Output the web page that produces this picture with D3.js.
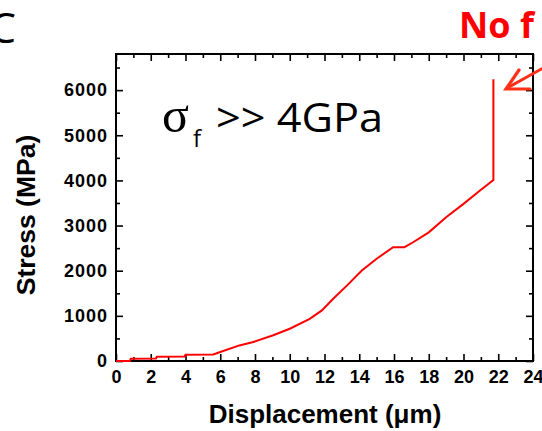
<!DOCTYPE html>
<html>
<head>
<meta charset="utf-8">
<script src="https://cdn.jsdelivr.net/npm/d3@7"></script>
<style>
  html, body { margin: 0; padding: 0; background: #fff; }
  svg { display: block; }
</style>
</head>
<body>
<script>
// Stress–displacement record of the pillar (MPa vs µm)
const displacement = [0, 0.8, 0.85, 2.3, 2.35, 3.95, 4.0, 5.6, 6.0, 7.1, 7.9, 9.05, 10.0, 11.15, 11.85, 12.5, 13.3, 14.15, 15.0, 15.95, 16.6, 17.1, 18.0, 19.0, 20.0, 20.95, 21.72, 21.72];
const stress =       [0, 0, 50, 55, 95, 100, 140, 145, 200, 345, 420, 570, 715, 935, 1120, 1380, 1675, 2005, 2265, 2520, 2520, 2630, 2850, 3185, 3480, 3775, 4010, 6240];

const xTicks = [0, 2, 4, 6, 8, 10, 12, 14, 16, 18, 20, 22, 24];
const xMinor = [1, 3, 5, 7, 9, 11, 13, 15, 17, 19, 21, 23];
const yTicks = [0, 1000, 2000, 3000, 4000, 5000, 6000];
const yMinor = [500, 1500, 2500, 3500, 4500, 5500, 6500];

const W = 542, H = 431;
const m = { left: 116, right: 9, top: 54, bottom: 70 };

const svg = d3.select("body").append("svg").attr("width", W).attr("height", H);

const x = d3.scaleLinear().domain([0, 24]).range([m.left, W - m.right]);
const y = d3.scaleLinear().domain([0, 6800]).range([H - m.bottom, m.top]);

const tickFont = "'Liberation Sans', Arial, sans-serif";

function styleAxis(g) {
  g.selectAll("path.domain").remove();
  g.selectAll("line").attr("stroke", "#000").attr("stroke-width", 1.6);
  g.selectAll("text").attr("fill", "#000").attr("font-family", tickFont)
    .attr("font-weight", "bold").attr("font-size", 18);
}

// bottom axis (inward ticks, labelled)
svg.append("g").attr("transform", `translate(0,${y(0)})`)
  .call(d3.axisBottom(x).tickValues(xTicks).tickSize(-7).tickPadding(9).tickFormat(d3.format("d")))
  .call(styleAxis);
svg.append("g").attr("transform", `translate(0,${y(0)})`)
  .call(d3.axisBottom(x).tickValues(xMinor).tickSize(-4).tickFormat(""))
  .call(styleAxis);
// top axis
svg.append("g").attr("transform", `translate(0,${m.top})`)
  .call(d3.axisTop(x).tickValues(xTicks).tickSize(-7).tickFormat(""))
  .call(styleAxis);
svg.append("g").attr("transform", `translate(0,${m.top})`)
  .call(d3.axisTop(x).tickValues(xMinor).tickSize(-4).tickFormat(""))
  .call(styleAxis);
// left axis (labelled)
const yl = svg.append("g").attr("transform", `translate(${x(0)},0)`)
  .call(d3.axisLeft(y).tickValues(yTicks).tickSize(-7).tickPadding(8).tickFormat(d3.format("d")))
  .call(styleAxis);
yl.selectAll("text").attr("font-size", 18).attr("letter-spacing", 1);
svg.append("g").attr("transform", `translate(${x(0)},0)`)
  .call(d3.axisLeft(y).tickValues(yMinor).tickSize(-4).tickFormat(""))
  .call(styleAxis);
// right axis
svg.append("g").attr("transform", `translate(${x(24)},0)`)
  .call(d3.axisRight(y).tickValues(yTicks).tickSize(-7).tickFormat(""))
  .call(styleAxis);
svg.append("g").attr("transform", `translate(${x(24)},0)`)
  .call(d3.axisRight(y).tickValues(yMinor).tickSize(-4).tickFormat(""))
  .call(styleAxis);

// frame
svg.append("rect")
  .attr("x", x(0)).attr("y", y(6800))
  .attr("width", x(24) - x(0)).attr("height", y(0) - y(6800))
  .attr("fill", "none").attr("stroke", "#000").attr("stroke-width", 2);

// curve
const pts = displacement.map((d, i) => [d, stress[i]]);
svg.append("path")
  .datum(pts)
  .attr("fill", "none")
  .attr("stroke", "#ff0000")
  .attr("stroke-width", 2)
  .attr("d", d3.line().x(d => x(d[0])).y(d => y(d[1])));

// axis titles
svg.append("text")
  .attr("x", 325).attr("y", 423)
  .attr("text-anchor", "middle")
  .attr("font-family", tickFont).attr("font-weight", "bold").attr("font-size", 26)
  .text("Displacement (\u03BCm)");

svg.append("text")
  .attr("transform", "translate(35,215) rotate(-90)")
  .attr("text-anchor", "middle")
  .attr("font-family", tickFont).attr("font-weight", "bold").attr("font-size", 26.5)
  .text("Stress (MPa)");

// in-plot annotation: σf >> 4GPa
const ann = svg.append("g");
ann.append("text")
  .attr("x", 162).attr("y", 132)
  .attr("font-family", "'Liberation Serif', 'Times New Roman', serif").attr("font-size", 50)
  .text("\u03C3");
ann.append("text")
  .attr("x", 193).attr("y", 147)
  .attr("font-family", "'Open Sans', sans-serif").attr("font-size", 24)
  .text("f");
ann.append("text")
  .attr("x", 216).attr("y", 132)
  .attr("font-family", "'Open Sans', sans-serif").attr("font-size", 40)
  .attr("textLength", 167).attr("lengthAdjust", "spacingAndGlyphs")
  .text(">> 4GPa");

// panel letter
svg.append("text")
  .attr("x", 16).attr("y", 43)
  .attr("text-anchor", "end")
  .attr("font-family", "'Open Sans', sans-serif").attr("font-size", 42)
  .text("C");

// red callout
svg.append("text")
  .attr("x", 459).attr("y", 38)
  .attr("fill", "#ff0000")
  .attr("font-family", "'Open Sans', sans-serif").attr("font-weight", "bold").attr("font-size", 36)
  .text("No f");

const arrowColor = "#ff3019";
svg.append("path")
  .attr("d", "M545,67 L507,88")
  .attr("stroke", arrowColor).attr("stroke-width", 3).attr("fill", "none");
svg.append("path")
  .attr("d", "M519,70 L506,89 L530,89")
  .attr("stroke", arrowColor).attr("stroke-width", 3.2).attr("fill", "none")
  .attr("stroke-linejoin", "miter").attr("stroke-linecap", "round");
</script>
</body>
</html>
